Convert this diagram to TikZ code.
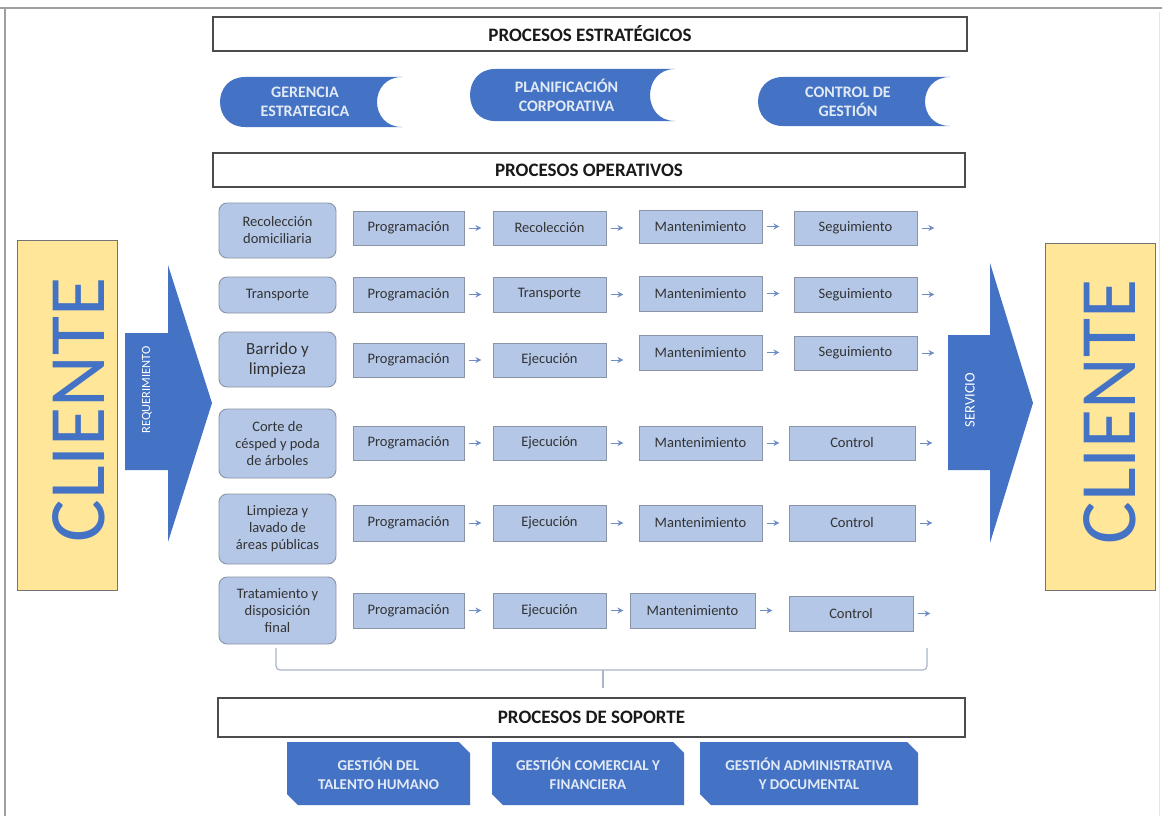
\documentclass[tikz,border=0pt]{standalone}
\usepackage{fontspec}
\setmainfont{Carlito}
\usetikzlibrary{arrows.meta,calc}
\definecolor{oblue}{HTML}{4472C4}
\definecolor{lblue}{HTML}{B4C7E7}
\definecolor{bordgray}{HTML}{8A94A6}
\definecolor{cyellow}{HTML}{FFE699}
\definecolor{txtlight}{HTML}{E2EAF6}
\definecolor{arrowc}{HTML}{6F8CC4}
\definecolor{framegray}{HTML}{A0A0A0}
\definecolor{bracketc}{HTML}{A9B6C9}
\newcommand\pbox[6]{\node[procbox, minimum width={#4pt-#2pt}, minimum height={#5pt-#3pt}] (#1) at ({(#2+#4)/2},{(#3+#5)/2}) {#6};}
\newcommand\cbox[6]{\node[catbox, minimum width={#4pt-#2pt}, minimum height={#5pt-#3pt}] (#1) at ({(#2+#4)/2},{(#3+#5)/2}) {#6};}
\newcommand\parr[1]{\draw[flowarr] ([xshift=5pt]#1.east) -- ++(12,0);}
\newcommand\strat[6]{%
  \fill[oblue] ({#2+25},#4) -- (#3,#4) .. controls ({#3-33.3},#4) and ({#3-33.3},#5) .. (#3,#5)
     -- ({#2+25},#5) .. controls ({#2-8.3},#5) and ({#2-8.3},#4) .. ({#2+25},#4) -- cycle;
  \node[strattext] (#1) at ({(#2+#3)/2-6},{(#4+#5)/2}) {#6};}
\newcommand\supp[6]{%
  \fill[oblue] (#2,#4) -- ({#3-11},#4) -- (#3,{#4+11}) -- (#3,#5) -- ({#2+11},#5) -- (#2,{#5-11}) -- cycle;
  \node[supptext] (#1) at ({(#2+#3)/2},{(#4+#5)/2}) {#6};}
\begin{document}
\begin{tikzpicture}[x=1pt,y=-1pt,
  procbox/.style={draw=bordgray, fill=lblue, line width=0.9pt, inner sep=0pt,
    font=\fontsize{14.5}{16}\selectfont, text=black!80},
  catbox/.style={procbox, rounded corners=8pt, align=center,
    font=\fontsize{14.5}{17}\selectfont},
  hdrbox/.style={draw=black!70, line width=1.3pt, fill=white, inner sep=0pt,
    font=\bfseries\fontsize{19}{21}\selectfont, text=black!90},
  flowarr/.style={draw=arrowc, line width=1pt, -{Stealth[length=6pt,width=6pt]}},
  strattext/.style={text=txtlight, font=\bfseries\fontsize{16}{19}\selectfont, align=center, inner sep=0pt},
  supptext/.style={text=txtlight, font=\bfseries\fontsize{15}{19}\selectfont, align=center, inner sep=0pt},
  clientbox/.style={draw=black!55, line width=1pt, fill=cyellow, inner sep=0pt},
  clienttext/.style={text=oblue, rotate=90, font=\fontsize{80}{80}\selectfont, inner sep=0pt},
  arrtext/.style={text=white, rotate=90, inner sep=0pt}
]
\useasboundingbox (0,0) rectangle (1162,816);
\fill[white] (0,0) rectangle (1162,816);
% frame
\draw[framegray, line width=2pt] (0,8) -- (1162,8);
\draw[framegray, line width=2pt] (5,7) -- (5,816);
\draw[black!10, line width=1pt] (1159,12) -- (1159,816);

% headers
\node[hdrbox, minimum width=754pt, minimum height=34pt] (hstrat) at (590,34) {PROCESOS ESTRATÉGICOS};
\node[hdrbox, minimum width=752pt, minimum height=34pt] (hop) at (589,170) {PROCESOS OPERATIVOS};
\node[hdrbox, minimum width=747pt, minimum height=39pt] (hsop) at (591.5,717.5) {PROCESOS DE SOPORTE};

% strategic shapes
\strat{ger}{220}{402}{77}{127}{GERENCIA\\ESTRATEGICA}
\strat{plan}{470}{675}{69}{121}{PLANIFICACIÓN\\CORPORATIVA}
\strat{ctrl}{758}{950}{77}{126}{CONTROL DE\\GESTIÓN}

% clients
\node[clientbox, minimum width=100pt, minimum height=350pt] (cl1) at (67,415) {};
\node[clienttext] (cl1t) at (79,410) {CLIENTE};
\node[clientbox, minimum width=110pt, minimum height=347pt] (cl2) at (1100,416.5) {};
\node[clienttext] (cl2t) at (1110,412) {CLIENTE};

% big arrows
\fill[oblue] (125,333) -- (168,333) -- (168,265) -- (212,403) -- (168,542) -- (168,470) -- (125,470) -- cycle;
\node[arrtext, font=\fontsize{12.5}{13}\selectfont] (req) at (147,390) {REQUERIMIENTO};
\fill[oblue] (948,335) -- (990,335) -- (990,263) -- (1033,403) -- (990,543) -- (990,470) -- (948,470) -- cycle;
\node[arrtext, font=\fontsize{14.5}{15}\selectfont] (serv) at (970,400) {SERVICIO};

% categories
\cbox{c1}{219}{203}{336}{258}{Recolección\\domiciliaria}
\cbox{c2}{219}{277}{336}{313}{Transporte}
\node[catbox, minimum width=117pt, minimum height=55pt, font=\fontsize{17}{20}\selectfont] (c3) at (277.5,359.5) {Barrido y\\limpieza};
\cbox{c4}{219}{409}{336}{478}{Corte de\\césped y poda\\de árboles}
\cbox{c5}{219}{494}{336}{564}{Limpieza y\\lavado de\\áreas públicas}
\cbox{c6}{219}{577}{336}{644}{Tratamiento y\\disposición\\final}

% row 1
\pbox{p11}{353}{211}{464}{245}{Programación}
\pbox{p12}{493}{211}{606}{245}{Recolección}
\pbox{p13}{639}{210}{762}{243}{Mantenimiento}
\pbox{p14}{794}{211}{917}{245}{Seguimiento}
% row 2
\pbox{p21}{353}{277}{464}{312}{Programación}
\pbox{p22}{493}{277}{606}{312}{Transporte}
\pbox{p23}{639}{276}{762}{311}{Mantenimiento}
\pbox{p24}{794}{277}{917}{312}{Seguimiento}
% row 3
\pbox{p31}{353}{343}{464}{377}{Programación}
\pbox{p32}{493}{343}{606}{377}{Ejecución}
\pbox{p33}{639}{335}{762}{370}{Mantenimiento}
\pbox{p34}{794}{336}{917}{370}{Seguimiento}
% row 4
\pbox{p41}{353}{426}{464}{460}{Programación}
\pbox{p42}{493}{426}{606}{460}{Ejecución}
\pbox{p43}{639}{426}{762}{460}{Mantenimiento}
\pbox{p44}{789}{426}{915}{460}{Control}
% row 5
\pbox{p51}{353}{505}{464}{541}{Programación}
\pbox{p52}{493}{505}{606}{541}{Ejecución}
\pbox{p53}{639}{505}{762}{541}{Mantenimiento}
\pbox{p54}{789}{505}{915}{541}{Control}
% row 6
\pbox{p61}{353}{593}{464}{628}{Programación}
\pbox{p62}{493}{593}{606}{628}{Ejecución}
\pbox{p63}{630}{593}{755}{628}{Mantenimiento}
\pbox{p64}{789}{596}{913}{631}{Control}

\foreach \r in {1,...,6}{\foreach \c in {1,...,4}{\parr{p\r\c}}}

% bracket
\coordinate (bl) at (276,648);
\coordinate (br) at (927,648);
\coordinate (bm) at (603,670);
\coordinate (bt) at (603,688);
\draw[bracketc, line width=1.2pt, rounded corners=4pt] (bl) -- (276,670) -- (927,670) -- (br);
\draw[bracketc, line width=1.2pt] (bm) -- (bt);

% support
\supp{s1}{287}{470}{742}{805}{GESTIÓN DEL\\TALENTO HUMANO}
\supp{s2}{492}{684}{742}{805}{GESTIÓN COMERCIAL Y\\FINANCIERA}
\supp{s3}{700}{918}{742}{805}{GESTIÓN ADMINISTRATIVA\\Y DOCUMENTAL}
\end{tikzpicture}
\end{document}
